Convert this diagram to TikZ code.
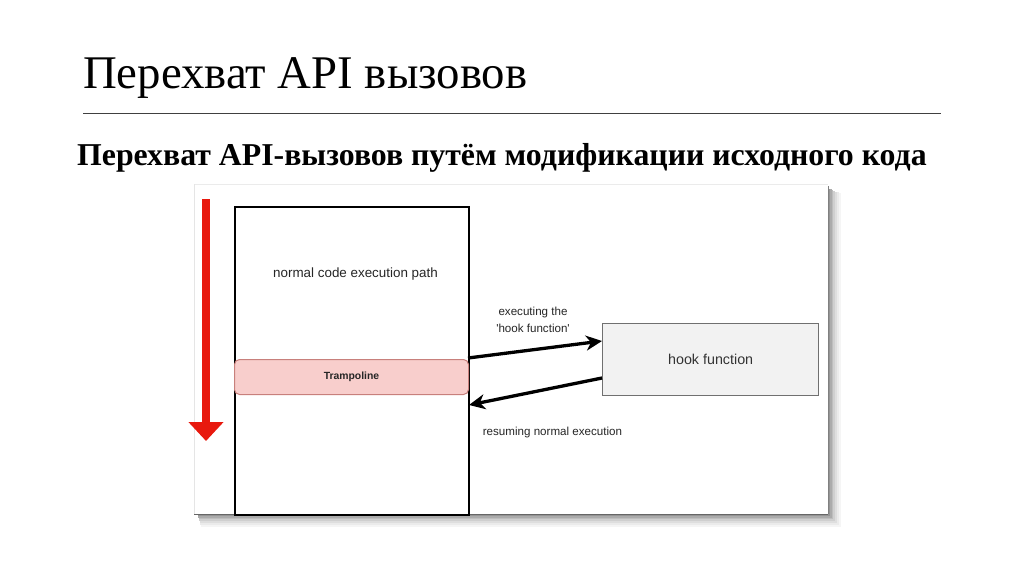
\documentclass[tikz,border=0pt]{standalone}
\usepackage{fontspec}
\setmainfont{Liberation Serif}
\newfontfamily\diafont{Liberation Sans}
\usetikzlibrary{arrows.meta}
\definecolor{trfill}{HTML}{F8CECC}
\definecolor{trdraw}{HTML}{C8807C}
\definecolor{hkfill}{HTML}{F2F2F2}
\definecolor{hkdraw}{HTML}{707070}
\definecolor{redarrow}{HTML}{E8190E}
\tikzset{
  connb/.style={line width=3.3pt, -{Stealth[length=16pt, width=15pt, inset=5pt]}},
  lbl/.style={font=\diafont\fontsize{11.6}{14}\selectfont, text=black!85, inner sep=0pt},
}
\begin{document}
\begin{tikzpicture}[x=1pt,y=-1pt]
\useasboundingbox (0,0) rectangle (1024,574);
\fill[white] (0,0) rectangle (1024,574);
% title
\node[anchor=base west, inner sep=0pt, font=\fontsize{46.8}{52}\selectfont] (title) at (83,88) {Перехват API вызовов};
\draw[line width=1pt, black!75] (83,113.5) -- (941,113.5);
\node[anchor=base west, inner sep=0pt, font=\bfseries\fontsize{31.8}{36}\selectfont] (sub) at (77,165) {Перехват API-вызовов путём модификации исходного кода};
% panel shadow
\foreach \d/\c in {13/4,11/8,9/13,7/19,5/26,3.5/33,2/42}{
  \fill[black!\c] (197+\d*0.3,188+\d*0.4) rectangle (828+\d,514+\d);
}
\fill[white] (194,184) rectangle (828,514);
\draw[black!8, line width=0.8pt] (194,184) -- (828,184);
\draw[black!10, line width=0.8pt] (194,184) -- (194,514);
\draw[black!60, line width=1.3pt] (194,514.5) -- (828,514.5);
\draw[black!50, line width=1.3pt] (828.5,186) -- (828.5,514);
% red arrow
\coordinate (ra1) at (206,199);
\coordinate (ra2) at (206,441);
\draw[redarrow, line width=8pt, -{Triangle[length=19pt, width=34pt]}] (ra1) -- (ra2);
% main rect
\node[draw, line width=1.6pt, minimum width=234pt, minimum height=308pt, anchor=north west, inner sep=0pt] (main) at (234,206) {};
\node[lbl, font=\diafont\fontsize{13.4}{16}\selectfont, text=black!85] (normal) at (355.5,274) {normal code execution path};
% trampoline
\node[draw=trdraw, fill=trfill, line width=1pt, rounded corners=5pt, minimum width=234pt, minimum height=35pt, anchor=north west, inner sep=0pt, font=\diafont\bfseries\fontsize{10.4}{12}\selectfont, text=black!85] (tramp) at (234,359) {Trampoline};
% hook function
\node[draw=hkdraw, fill=hkfill, line width=1.3pt, minimum width=216pt, minimum height=72pt, anchor=north west, inner sep=0pt, font=\diafont\fontsize{14.3}{17}\selectfont, text=black!80] (hook) at (602,323) {hook function};
% connectors
\coordinate (a1s) at (468,358);
\coordinate (a2e) at (469,405);
\draw[connb] (a1s) -- (hook.west |- 0,341);
\draw[connb] (hook.west |- 0,378) -- (a2e);
% labels
\node[lbl] (l1) at (533,312) {executing the};
\node[lbl] (l2) at (533,328) {'hook function'};
\node[lbl] (l3) at (552.5,432) {resuming normal execution};
\end{tikzpicture}
\end{document}
